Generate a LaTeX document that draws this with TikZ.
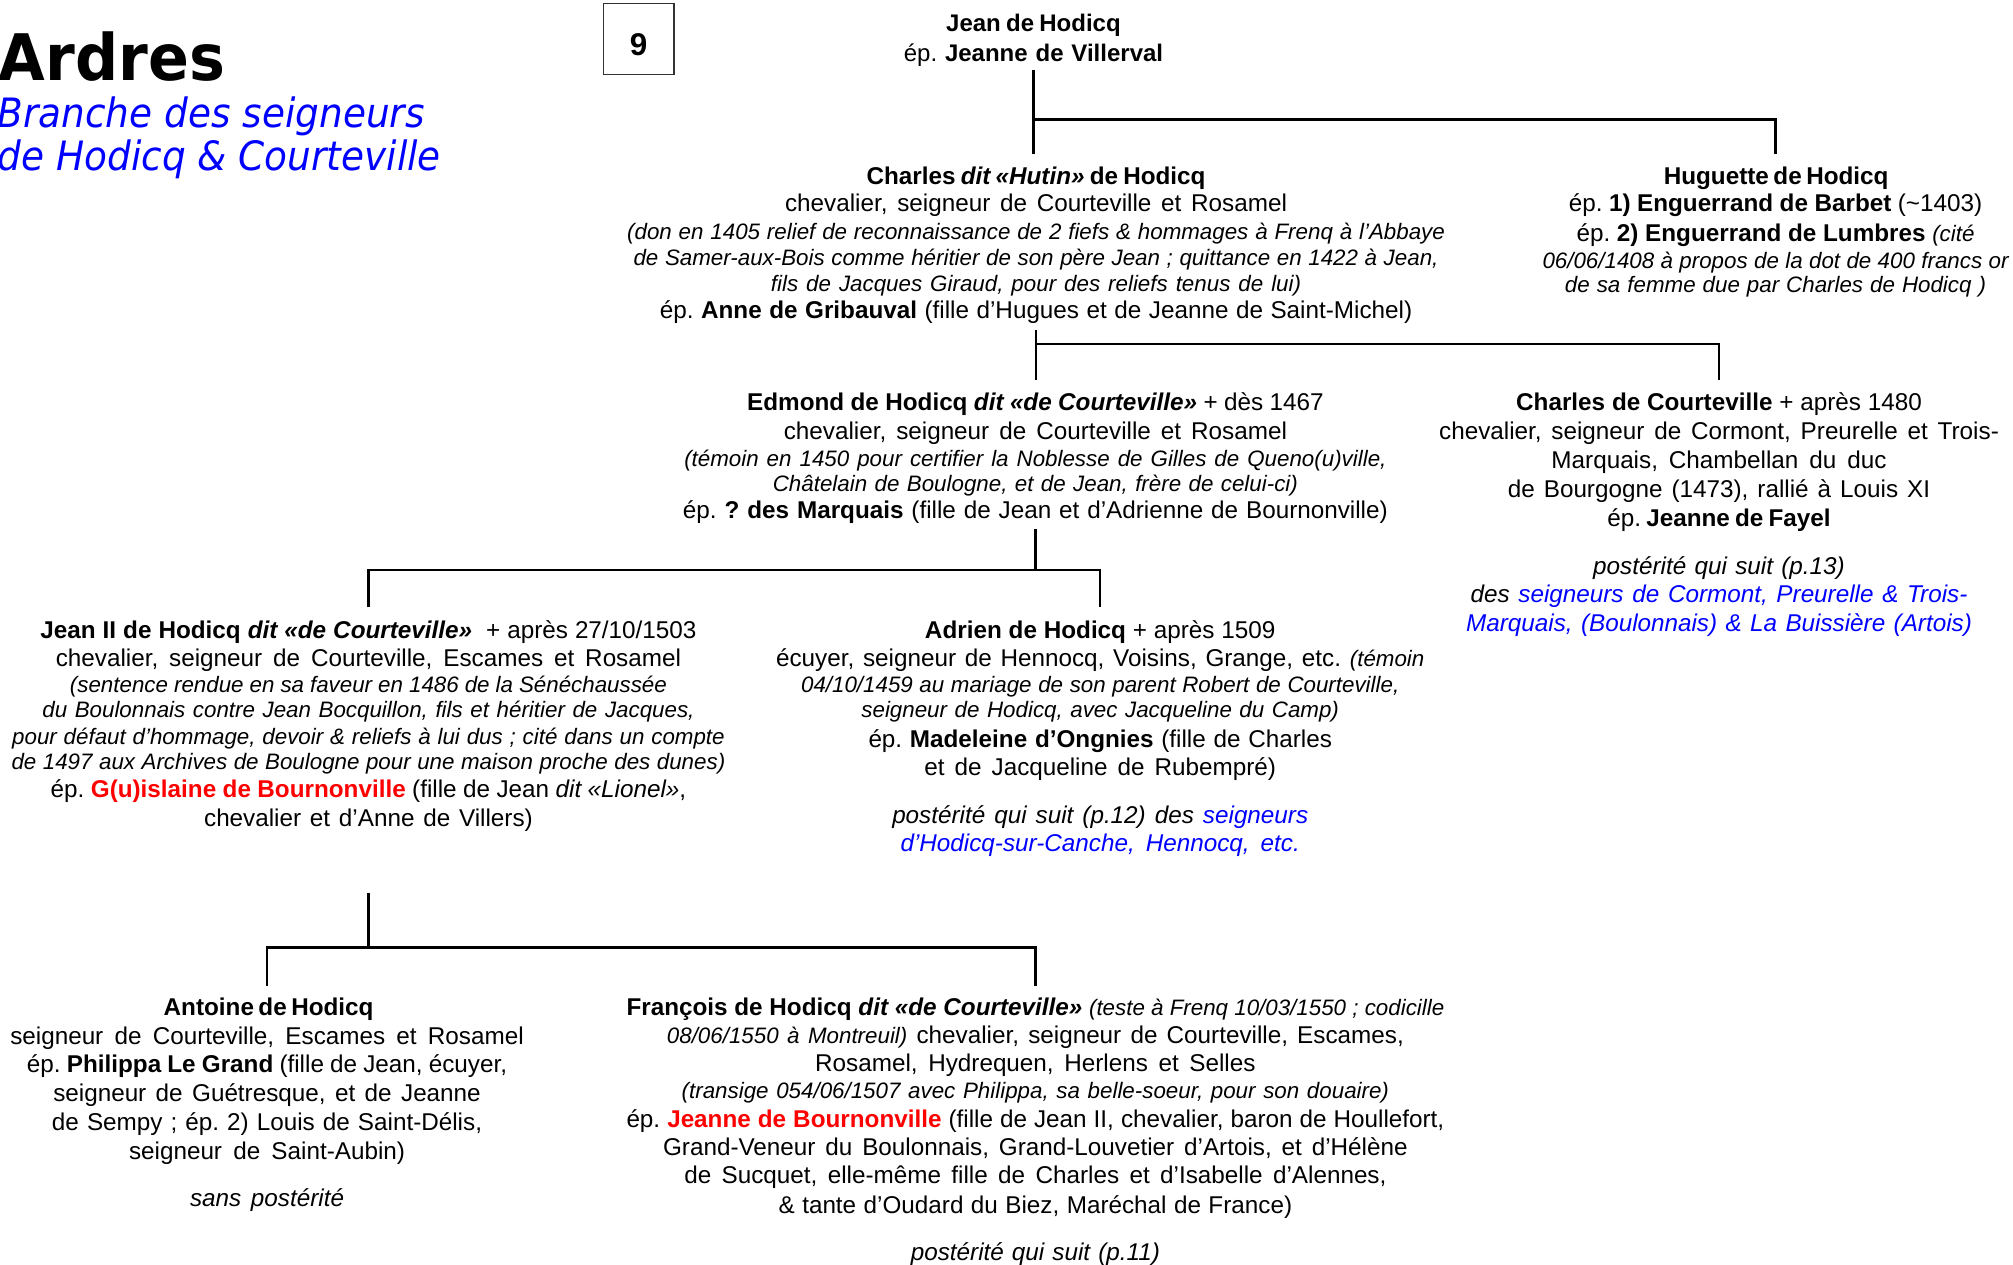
\documentclass[tikz,border=0pt]{standalone}
\usepackage{fontspec}
\usepackage{graphicx}
\setmainfont{Liberation Sans}
\newfontfamily\titlefont{DejaVu Sans}
\definecolor{lnkblue}{RGB}{0,0,255}
\definecolor{namered}{RGB}{255,0,0}
\newcommand\jl[2]{\makebox[#1pt][s]{#2}}
\newcommand\cmt{\fontsize{17.4}{20}\selectfont\itshape}
\frenchspacing
\tikzset{
  person/.style={anchor=north, align=center, inner sep=0pt, font=\fontsize{18.9}{21}\selectfont},
  link/.style={line width=1.8pt},
}
\begin{document}
\frenchspacing
\begin{tikzpicture}[x=1pt,y=-1pt]
\useasboundingbox (0,0) rectangle (1568,985);

% title
\node[anchor=base west, inner sep=0pt, font=\titlefont\bfseries\fontsize{50}{50}\selectfont] (title) at (-1,62.5) {\scalebox{0.94}[1]{Ardres}};
\node[anchor=north west, align=left, inner sep=0pt, text=lnkblue, font=\titlefont\itshape\fontsize{31.5}{34}\selectfont] (subtitle) at (-2,75)
  {\scalebox{0.925}[1]{Branche des seigneurs}\\ \scalebox{0.925}[1]{de Hodicq \& Courteville}};
\node[draw=black!80, line width=1pt, minimum width=55pt, minimum height=55pt, inner sep=0pt, font=\bfseries\fontsize{24.5}{24.5}\selectfont] (pagenum) at (497.5,30.5) {\raisebox{-13pt}[0pt][0pt]{9}};

% generation 1
\node[person, font=\fontsize{18.7}{23}\selectfont] (jean) at (805,11)
  {\jl{136}{\textbf{Jean de Hodicq}}\\
   \jl{202}{ép. \textbf{Jeanne de Villerval}}};

% generation 2
\node[person] (charles) at (807,130)
  {\jl{264}{\textbf{Charles \textit{dit «Hutin»} de Hodicq}}\\
   \jl{391}{chevalier, seigneur de Courteville et Rosamel}\\[1pt]
   {\cmt\jl{637}{(don en 1405 relief de reconnaissance de 2 fiefs \& hommages à Frenq à l’Abbaye}}\\[-1pt]
   {\cmt\jl{627}{de Samer-aux-Bois comme héritier de son père Jean ; quittance en 1422 à Jean,}}\\[-1pt]
   {\cmt\jl{413}{fils de Jacques Giraud, pour des reliefs tenus de lui)}}\\
   \jl{586}{ép. \textbf{Anne de Gribauval} (fille d’Hugues et de Jeanne de Saint-Michel)}};

\node[person] (huguette) at (1383,130)
  {\jl{174}{\textbf{Huguette de Hodicq}}\\
   \jl{322}{ép. \textbf{1) Enguerrand de Barbet} (\textasciitilde1403)}\\[2pt]
   \jl{310}{ép. \textbf{2) Enguerrand de Lumbres} {\cmt(cité}}\\
   {\cmt\jl{363}{06/06/1408 à propos de la dot de 400 francs or}}\\[-2pt]
   {\cmt\jl{328}{de sa femme due par Charles de Hodicq )}}};

% generation 3
\node[person] (edmond) at (806.5,306)
  {\jl{449}{\textbf{Edmond de Hodicq \textit{dit «de Courteville»}} + dès 1467}\\[1pt]
   \jl{392}{chevalier, seigneur de Courteville et Rosamel}\\
   {\cmt\jl{547}{(témoin en 1450 pour certifier la Noblesse de Gilles de Queno(u)ville,}}\\[-1pt]
   {\cmt\jl{409}{Châtelain de Boulogne, et de Jean, frère de celui-ci)}}\\
   \jl{549}{ép. \textbf{? des Marquais} (fille de Jean et d’Adrienne de Bournonville)}};

\node[person, font=\fontsize{18.9}{22.5}\selectfont] (ccourt) at (1339,306)
  {\jl{316}{\textbf{Charles de Courteville} + après 1480}\\
   \jl{436}{chevalier, seigneur de Cormont, Preurelle et Trois-}\\
   \jl{261}{Marquais, Chambellan du duc}\\
   \jl{329}{de Bourgogne (1473), rallié à Louis XI}\\
   \jl{174}{ép. \textbf{Jeanne de Fayel}}\\[14.5pt]
   {\itshape\jl{196}{postérité qui suit (p.13)}}\\
   {\itshape\jl{387}{des \textcolor{lnkblue}{seigneurs de Cormont, Preurelle \& Trois-}}}\\
   {\itshape\color{lnkblue}\jl{394}{Marquais, (Boulonnais) \& La Buissière (Artois)}}};

% generation 4
\node[person] (jean2) at (287,483)
  {\jl{511}{\textbf{Jean II de Hodicq \textit{dit «de Courteville»}}\ \ + après 27/10/1503}\\[1pt]
   \jl{487}{chevalier, seigneur de Courteville, Escames et Rosamel}\\[-1pt]
   {\cmt\jl{465}{(sentence rendue en sa faveur en 1486 de la Sénéchaussée}}\\[-1pt]
   {\cmt\jl{508}{du Boulonnais contre Jean Bocquillon, fils et héritier de Jacques,}}\\
   {\cmt\jl{555}{pour défaut d’hommage, devoir \& reliefs à lui dus ; cité dans un compte}}\\[-2pt]
   {\cmt\jl{556}{de 1497 aux Archives de Boulogne pour une maison proche des dunes)}}\\[1pt]
   \jl{495}{ép. \textcolor{namered}{\textbf{G(u)islaine de Bournonville}} (fille de Jean \textit{dit «Lionel»},}\\[2pt]
   \jl{256}{chevalier et d’Anne de Villers)}};

\node[person] (adrien) at (857,483)
  {\jl{273}{\textbf{Adrien de Hodicq} + après 1509}\\[1pt]
   \jl{505}{écuyer, seigneur de Hennocq, Voisins, Grange, etc. {\cmt(témoin}}\\[-1pt]
   {\cmt\jl{466}{04/10/1459 au mariage de son parent Robert de Courteville,}}\\[-1pt]
   {\cmt\jl{372}{seigneur de Hodicq, avec Jacqueline du Camp)}}\\[2pt]
   \jl{361}{ép. \textbf{Madeleine d’Ongnies} (fille de Charles}\\[1pt]
   \jl{274}{et de Jacqueline de Rubempré)}\\[16pt]
   {\itshape\jl{324}{postérité qui suit (p.12) des \textcolor{lnkblue}{seigneurs}}}\\[1pt]
   {\itshape\color{lnkblue}\jl{311}{d’Hodicq-sur-Canche, Hennocq, etc.}}};

% generation 5
\node[person, font=\fontsize{18.9}{22.4}\selectfont] (antoine) at (208,777)
  {\jl{161}{\textbf{Antoine de Hodicq}}\\
   \jl{400}{seigneur de Courteville, Escames et Rosamel}\\
   \jl{374}{ép. \textbf{Philippa Le Grand} (fille de Jean, écuyer,}\\
   \jl{333}{seigneur de Guétresque, et de Jeanne}\\
   \jl{335}{de Sempy ; ép. 2) Louis de Saint-Délis,}\\
   \jl{215}{seigneur de Saint-Aubin)}\\[14.5pt]
   {\itshape\jl{120}{sans postérité}}};

\node[person, font=\fontsize{18.9}{22}\selectfont] (francois) at (806.5,777)
  {\jl{637}{\textbf{François de Hodicq \textit{dit «de Courteville»}} {\cmt(teste à Frenq 10/03/1550 ; codicille}}\\
   \jl{574}{{\cmt 08/06/1550 à Montreuil)} chevalier, seigneur de Courteville, Escames,}\\
   \jl{343}{Rosamel, Hydrequen, Herlens et Selles}\\[-1pt]
   {\cmt\jl{551}{(transige 054/06/1507 avec Philippa, sa belle-soeur, pour son douaire)}}\\
   \jl{637}{ép. \textcolor{namered}{\textbf{Jeanne de Bournonville}} (fille de Jean II, chevalier, baron de Houllefort,}\\
   \jl{580}{Grand-Veneur du Boulonnais, Grand-Louvetier d’Artois, et d’Hélène}\\
   \jl{547}{de Sucquet, elle-même fille de Charles et d’Isabelle d’Alennes,}\\[1pt]
   \jl{400}{\& tante d’Oudard du Biez, Maréchal de France)}\\[15pt]
   {\itshape\jl{194}{postérité qui suit (p.11)}}};

% forks
\coordinate (fork1) at (806,93);
\coordinate (fork2) at (806,268);
\coordinate (fork3) at (806,444);
\coordinate (fork4) at (288,738);

% connectors
\draw[link, shorten <=3pt, shorten >=10pt] (jean.south) -- (jean.south |- charles.north);
\draw[link, shorten >=10pt] (jean.south |- fork1) -| (huguette.north);

\draw[link, shorten <=5pt, shorten >=10pt] (charles.south) -- (charles.south |- edmond.north);
\draw[link, shorten >=10pt] (charles.south |- fork2) -| (ccourt.north);

\draw[link, shorten <=4pt] (edmond.south) -- (edmond.south |- fork3);
\draw[link, shorten <=10pt, shorten >=10pt] (jean2.north) |- (fork3) -| (adrien.north);

\draw[link, shorten <=47pt] (jean2.south) -- (jean2.south |- fork4);
\draw[link, shorten <=9pt, shorten >=9pt] (antoine.north) |- (fork4) -| (francois.north);
\end{tikzpicture}
\end{document}
